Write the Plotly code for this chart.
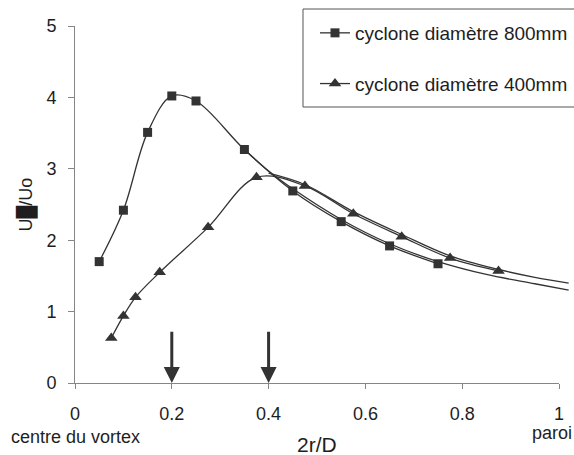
import plotly.graph_objects as go

# Mesures : cyclone de diamètre 800 mm (carrés)
x_800 = [0.05, 0.10, 0.15, 0.20, 0.25, 0.35, 0.45, 0.55, 0.65, 0.75]
u_800 = [1.70, 2.42, 3.51, 4.02, 3.95, 3.27, 2.69, 2.26, 1.92, 1.67]

# Mesures : cyclone de diamètre 400 mm (triangles)
x_400 = [0.075, 0.10, 0.125, 0.175, 0.275, 0.375, 0.475, 0.575, 0.675, 0.775, 0.875]
u_400 = [0.63, 0.94, 1.20, 1.55, 2.18, 2.88, 2.76, 2.37, 2.05, 1.75, 1.57]

# Courbes d'ajustement de la zone externe (sans marqueurs)
x_fit_800 = [0.35, 0.40, 0.45, 0.55, 0.65, 0.75, 0.85, 0.95, 1.02]
u_fit_800 = [3.27, 2.97, 2.72, 2.29, 1.95, 1.70, 1.52, 1.39, 1.30]
x_fit_400 = [0.40, 0.475, 0.575, 0.675, 0.775, 0.875, 0.95, 1.02]
u_fit_400 = [2.94, 2.78, 2.40, 2.08, 1.78, 1.59, 1.48, 1.40]

# Graduations et repères
x_ticks = [0, 0.2, 0.4, 0.6, 0.8, 1]
y_ticks = [0, 1, 2, 3, 4, 5]
arrow_x = [0.2, 0.4]
arrow_top = 0.74

W, H = 574, 455
ML, MR, MT, MB = 75, 5, 26, 72
PW = W - ML - MR            # largeur de la zone de tracé
PX = 484                    # largeur en pixels de l'intervalle 0..1
PH = H - MT - MB

INK = "#333333"
GRID = "#858585"
FONT = "Liberation Sans, Arial, sans-serif"
TXT = "#1e1e1e"

fig = go.Figure()

line_style = dict(color=INK, width=1.3, shape="spline", smoothing=1)

fig.add_trace(go.Scatter(
    x=x_800, y=u_800, mode="lines+markers", name="cyclone diamètre 800mm",
    line=line_style, marker=dict(symbol="square", size=9, color=INK),
    xaxis="x2", yaxis="y2", legendgroup="a"))
fig.add_trace(go.Scatter(
    x=x_400, y=u_400, mode="lines+markers", name="cyclone diamètre 400mm",
    line=line_style, marker=dict(symbol="triangle-up", size=11, color=INK),
    xaxis="x2", yaxis="y2", legendgroup="b"))
fig.add_trace(go.Scatter(
    x=x_fit_800, y=u_fit_800, mode="lines", line=line_style,
    showlegend=False, xaxis="x2", yaxis="y2"))
fig.add_trace(go.Scatter(
    x=x_fit_400, y=u_fit_400, mode="lines", line=line_style,
    showlegend=False, xaxis="x2", yaxis="y2"))

# Flèches verticales vers l'axe des abscisses
annotations = []
for xa in arrow_x:
    annotations.append(dict(
        x=xa, y=0, xref="x", yref="y", ax=xa, ay=arrow_top,
        axref="x", ayref="y", text="", showarrow=True,
        arrowhead=2, arrowsize=1.07, arrowwidth=3, arrowcolor=INK, standoff=0))

# Titres et légendes d'axes
lbl = dict(showarrow=False, xanchor="center", yanchor="middle")
annotations += [
    dict(text="U\u2588/Uo", textangle=-90, xref="paper", yref="paper",
         x=0, y=0.5, xshift=-49, font=dict(family=FONT, size=18, color=TXT), **lbl),
    dict(text="2r/D", xref="x", yref="paper", x=0.5, y=0, yshift=-61,
         font=dict(family=FONT, size=21, color=TXT), **lbl),
    dict(text="centre du vortex", xref="x", yref="paper", x=0, y=0, yshift=-54,
         font=dict(family=FONT, size=18, color=TXT), **lbl),
    dict(text="paroi", xref="x", yref="paper", x=1, y=0, xshift=-7, yshift=-50,
         font=dict(family=FONT, size=18, color=TXT), **lbl),
]

# Cadre de la légende : fond blanc, bord ouvert à droite (il sort du cadre)
box_l, box_t, box_b = 303, 9, 107
bx0 = (box_l - ML) / PW
bx1 = 1.5
by0 = (H - MB - box_b) / PH
by1 = (H - MB - box_t) / PH
shapes = [
    dict(type="rect", xref="paper", yref="paper", x0=bx0, x1=bx1, y0=by0, y1=by1,
         line=dict(width=0), fillcolor="white", layer="above"),
    dict(type="path", xref="paper", yref="paper",
         path=f"M{bx1},{by1} L{bx0},{by1} L{bx0},{by0} L{bx1},{by0}",
         line=dict(color="#555555", width=1), layer="above"),
]

fig.update_layout(
    width=W, height=H,
    margin=dict(l=ML, r=MR, t=MT, b=MB, autoexpand=False),
    paper_bgcolor="white", plot_bgcolor="white",
    font=dict(family=FONT, size=18, color=TXT),
    showlegend=True,
    legend=dict(x=(box_l + 12 - ML) / PW, y=(H - MB - box_t - 5) / PH,
                xanchor="left", yanchor="top", bgcolor="rgba(0,0,0,0)",
                bordercolor="rgba(0,0,0,0)", borderwidth=0, tracegroupgap=23,
                maxheight=400,
                font=dict(family=FONT, size=19, color=TXT)),
    xaxis=dict(domain=[0, PX / PW], range=[0, 1], tickvals=x_ticks,
               ticktext=[f"{v:g}" for v in x_ticks],
               showgrid=True, gridcolor=GRID, gridwidth=1,
               showline=True, linecolor=GRID, linewidth=1,
               ticks="outside", ticklen=5, tickcolor=GRID,
               zeroline=False, ticklabelstandoff=9),
    yaxis=dict(domain=[0, 1], range=[0, 5], tickvals=y_ticks,
               showgrid=True, gridcolor=GRID, gridwidth=1,
               showline=True, linecolor=GRID, linewidth=1,
               ticks="outside", ticklen=6, tickcolor=GRID,
               zeroline=False, ticklabelstandoff=8),
    xaxis2=dict(domain=[0, 1], range=[0, PW / PX], visible=False,
                anchor="y2", fixedrange=True),
    yaxis2=dict(domain=[0, 1], range=[0, 5], visible=False,
                anchor="x2", fixedrange=True),
    annotations=annotations,
    shapes=shapes,
)

fig.write_html("out.html")
